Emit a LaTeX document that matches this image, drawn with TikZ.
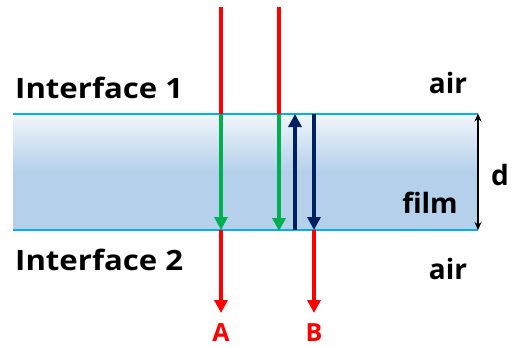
\documentclass[tikz,border=0pt]{standalone}
\usepackage{fontspec}
\setmainfont{Open Sans}
\usetikzlibrary{arrows.meta}
\definecolor{rayred}{RGB}{255,0,0}
\definecolor{raygreen}{RGB}{0,176,80}
\definecolor{raynavy}{RGB}{0,32,96}
\definecolor{ifcyan}{RGB}{0,176,240}
\definecolor{filmtop}{RGB}{242,246,252}
\definecolor{filmmid}{RGB}{180,208,234}
\newsavebox\myfitbox
\newcommand\myfitw[2]{\sbox\myfitbox{#2}\scalebox{\fpeval{(#1)/(\the\wd\myfitbox)}}[1]{\usebox\myfitbox}}
\tikzset{
  ray/.style={line width=3.2pt},
  tip/.style={-{Triangle[length=13pt,width=13pt]}},
  lbl/.style={font=\bfseries\fontsize{28}{30}\selectfont, inner sep=0pt},
  abl/.style={font=\bfseries\fontsize{25}{27}\selectfont, inner sep=0pt, text=rayred},
}
\begin{document}
\begin{tikzpicture}[x=1pt,y=-1pt]
\useasboundingbox (0,0) rectangle (513,346);
% film
\fill[filmmid] (13,170) rectangle (478,230);
\shade[top color=filmtop, bottom color=filmmid] (13,113.5) rectangle (478,172);
\draw[ifcyan, line width=2pt] (13,113.5) -- (478,113.5);
\draw[ifcyan, line width=2pt] (13,230) -- (478,230);
% coordinates
\coordinate (a0) at (221,7);
\coordinate (a1) at (221,113.5);
\coordinate (a2) at (221,230);
\coordinate (a3) at (221,313);
\coordinate (b0) at (279,7);
\coordinate (b1) at (279,113.5);
\coordinate (b2) at (279,231);
\coordinate (c1) at (295,114);
\coordinate (c2) at (295,230);
\coordinate (e1) at (314,113.5);
\coordinate (e2) at (314,230);
\coordinate (e3) at (314,313);
\coordinate (d1) at (478,113.5);
\coordinate (d2) at (478,230);
% rays
\draw[ray, rayred] (a0) -- (a1);
\draw[ray, raygreen, tip] (a1) -- (a2);
\draw[ray, rayred, tip] (a2) -- (a3);
\draw[ray, rayred] (b0) -- (b1);
\draw[ray, raygreen, tip] (b1) -- (b2);
\draw[ray, raynavy, tip] (c2) -- (c1);
\draw[ray, raynavy, tip] (e1) -- (e2);
\draw[ray, rayred, tip] (e2) -- (e3);
% d arrow
\draw[line width=1.5pt, {Stealth[length=8pt,width=7pt]}-{Stealth[length=8pt,width=7pt]}] (d1) -- (d2);
% labels
\node[lbl, anchor=base west] (if1) at (15,98) {\myfitw{168pt}{Interface 1}};
\node[lbl, anchor=base west] (if2) at (15,270) {\myfitw{168pt}{Interface 2}};
\node[lbl, anchor=base] (air1) at (448,93) {air};
\node[lbl, anchor=base] (air2) at (448,279) {air};
\node[lbl, anchor=base] (film) at (430,213) {film};
\node[lbl, anchor=base] (d) at (500,185) {d};
\node[abl, anchor=base] (A) at (221,341) {A};
\node[abl, anchor=base] (B) at (314,341) {B};
\end{tikzpicture}
\end{document}
